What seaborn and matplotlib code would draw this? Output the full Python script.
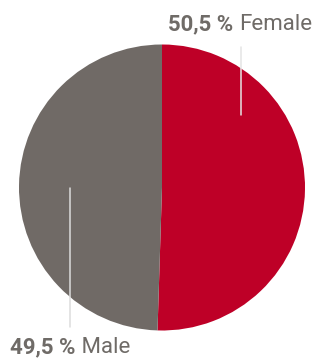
import seaborn as sns
import matplotlib.pyplot as plt

# Data
genders = ['Female', 'Male']
shares = [50.5, 49.5]
colors = ['#BE0027', '#706A66']

sns.set_theme(style='white')
plt.rcParams['font.family'] = ['Roboto', 'DejaVu Sans']
text_grey = '#6F6B67'

fig = plt.figure(figsize=(3.15, 3.58), dpi=100)
# square axes that hold the pie (radius 1 around 0,0)
ax = fig.add_axes([19 / 315, 27.5 / 358, 286 / 315, 286 / 358])
ax.pie(shares, colors=colors, startangle=90, counterclock=False,
       radius=1, wedgeprops={'linewidth': 0})
ax.set_xlim(-1, 1)
ax.set_ylim(-1, 1)
ax.axis('off')

# leader lines
ax.plot([0.55, 0.55], [0.98, 0.51], color='#e4e4e4', lw=1.1, clip_on=False)
ax.plot([-0.64, -0.64], [0.0, -0.975], color='#dcdcdc', lw=1.1, clip_on=False)

fs = 16
# Female label, right aligned at the top
pct_f = f'{shares[0]:.1f}'.replace('.', ',') + ' % '
t_name = ax.text(1.049, 1.101, genders[0], fontsize=fs, color=text_grey,
                 ha='right', va='baseline', clip_on=False)
ax.annotate(pct_f, xy=(0, 0), xycoords=t_name, fontsize=fs, fontweight='bold',
            color=text_grey, ha='right', va='bottom', annotation_clip=False)

# Male label, left aligned at the bottom
pct_m = f'{shares[1]:.1f}'.replace('.', ',') + ' %'
t_pct = ax.text(-1.06, -1.157, pct_m, fontsize=fs, fontweight='bold',
                color=text_grey, ha='left', va='baseline', clip_on=False)
ax.annotate(' ' + genders[1], xy=(1, 0), xycoords=t_pct, fontsize=fs,
            color=text_grey, ha='left', va='bottom', annotation_clip=False)

fig.savefig('out.png', dpi=100)
